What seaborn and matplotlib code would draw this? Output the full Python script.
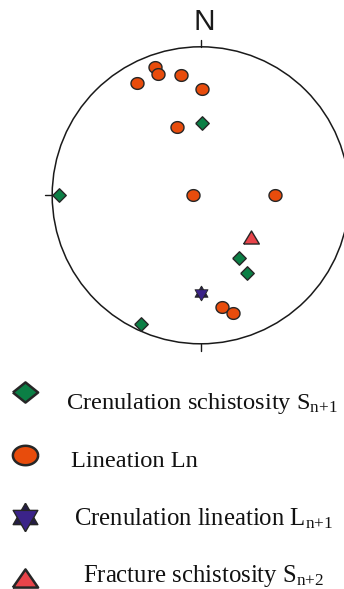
import numpy as np
import pandas as pd
import matplotlib.pyplot as plt
import seaborn as sns

# ========== Data (stereonet positions, unit circle) ==========
lin_u = [-0.31, -0.29, -0.43, -0.135, 0.01, -0.16, -0.055, 0.50, 0.145, 0.22]
lin_v = [0.865, 0.815, 0.755, 0.81, 0.715, 0.46, 0.005, 0.005, -0.75, -0.79]

cren_u = [0.01, -0.955, 0.255, 0.31, -0.40]
cren_v = [0.49, 0.005, -0.425, -0.525, -0.865]

crenlin_u = [0.005]
crenlin_v = [-0.66]

frac_u = [0.34]
frac_v = [-0.28]

legend_labels = [
    r"Crenulation schistosity S$_{\mathrm{n{+}1}}$",
    "Lineation Ln",
    r"Crenulation lineation L$_{\mathrm{n{+}1}}$",
    r"Fracture schistosity S$_{\mathrm{n{+}2}}$",
]

# ========== Style ==========
sns.set_theme(style="white")
plt.rcParams["font.family"] = ["Liberation Serif", "DejaVu Serif"]
plt.rcParams["mathtext.fontset"] = "custom"
plt.rcParams["mathtext.rm"] = "Liberation Serif"
plt.rcParams["mathtext.it"] = "Liberation Serif:italic"

GREEN = "#0b7f45"
ORANGE = "#e84c0c"
NAVY = "#241d45"
PURPLE = "#3b2389"
RED = "#e8444a"
EDGE = "#262626"

t = np.linspace(0, 2 * np.pi, 60)
def ellipse(ratio):
    return list(zip(np.cos(t), ratio * np.sin(t)))

def diamond(ratio):
    return [(-1, 0), (0, ratio), (1, 0), (0, -ratio), (-1, 0)]

def triangle(ratio):
    return [(-1, -ratio), (1, -ratio), (0, ratio), (-1, -ratio)]

TRI_UP = [(0, 1), (-0.866, -0.5), (0.866, -0.5), (0, 1)]
TRI_DOWN = [(0, -1), (-0.866, 0.5), (0.866, 0.5), (0, -1)]

W, H = 344, 589
fig = plt.figure(figsize=(W / 100, H / 100), dpi=100)

# full-figure overlay in pixel coords (legend + label)
ax_bg = fig.add_axes([0, 0, 1, 1])
ax_bg.set_xlim(0, W)
ax_bg.set_ylim(H, 0)
ax_bg.axis("off")

# stereonet axes
cx, cy, R = 200.7, 195.3, 148.5
ax = fig.add_axes([(cx - R) / W, (H - cy - R) / H, 2 * R / W, 2 * R / H])
ax.set_xlim(-1, 1)
ax.set_ylim(-1, 1)
ax.axis("off")

ax.add_patch(plt.Circle((0, 0), 1, fill=False, lw=1.1, color="#1a1a1a", clip_on=False))
tk = 7 / R
ax.plot([0, 0], [1, 1 + tk], color="#1a1a1a", lw=1.0, clip_on=False)
ax.plot([0, 0], [-1, -1 - tk], color="#1a1a1a", lw=1.0, clip_on=False)
ax.plot([-1, -1 - tk], [0, 0], color="#1a1a1a", lw=1.0, clip_on=False)
ax.plot([1, 1 + tk], [0, 0], color="#1a1a1a", lw=1.0, clip_on=False)

ax_bg.text(204, 22.5, "N", fontsize=21.5, family="Liberation Sans",
           ha="center", va="center", color="#1a1a1a")

# ========== Data points ==========
sns.scatterplot(x=lin_u, y=lin_v, ax=ax, marker=ellipse(0.9), s=88,
                color=ORANGE, edgecolor=EDGE, linewidth=1.0, clip_on=False, zorder=3)
sns.scatterplot(x=cren_u, y=cren_v, ax=ax, marker=diamond(1.0), s=94,
                color=GREEN, edgecolor=EDGE, linewidth=1.0, clip_on=False, zorder=3)
sns.scatterplot(x=crenlin_u, y=crenlin_v, ax=ax, marker=TRI_UP, s=117,
                color=NAVY, edgecolor=EDGE, linewidth=0.6, zorder=3)
sns.scatterplot(x=crenlin_u, y=crenlin_v, ax=ax, marker=TRI_DOWN, s=117,
                color=PURPLE, edgecolor=EDGE, linewidth=0.6, zorder=4)
sns.scatterplot(x=frac_u, y=frac_v, ax=ax, marker=triangle(0.83), s=128,
                color=RED, edgecolor=EDGE, linewidth=1.0, zorder=3)

# ========== Legend (manual) ==========
leg_x = 25
leg_y = [391.7, 455, 517, 578]
text_x = [66, 71, 74, 83]
text_base = [409, 467, 525, 582]
text_size = [17.6, 17.6, 17.8, 17.8]

sns.scatterplot(x=[leg_x], y=[leg_y[0]], ax=ax_bg, marker=diamond(0.8), s=330,
                color=GREEN, edgecolor=EDGE, linewidth=1.8, zorder=3)
sns.scatterplot(x=[leg_x], y=[leg_y[1]], ax=ax_bg, marker=ellipse(0.77), s=330,
                color=ORANGE, edgecolor=EDGE, linewidth=1.8, zorder=3)
sns.scatterplot(x=[leg_x], y=[leg_y[2]], ax=ax_bg, marker=TRI_UP, s=420,
                color=NAVY, edgecolor=EDGE, linewidth=1.0, zorder=3)
sns.scatterplot(x=[leg_x], y=[leg_y[2]], ax=ax_bg, marker=TRI_DOWN, s=420,
                color=PURPLE, edgecolor=EDGE, linewidth=1.0, zorder=4)
sns.scatterplot(x=[leg_x], y=[leg_y[3]], ax=ax_bg, marker=triangle(0.72), s=330,
                color=RED, edgecolor=EDGE, linewidth=1.8, zorder=3)

for label, x, y, fs in zip(legend_labels, text_x, text_base, text_size):
    ax_bg.text(x, y, label, fontsize=fs, ha="left", va="baseline", color="#111111")

fig.savefig("out.png", dpi=100)
